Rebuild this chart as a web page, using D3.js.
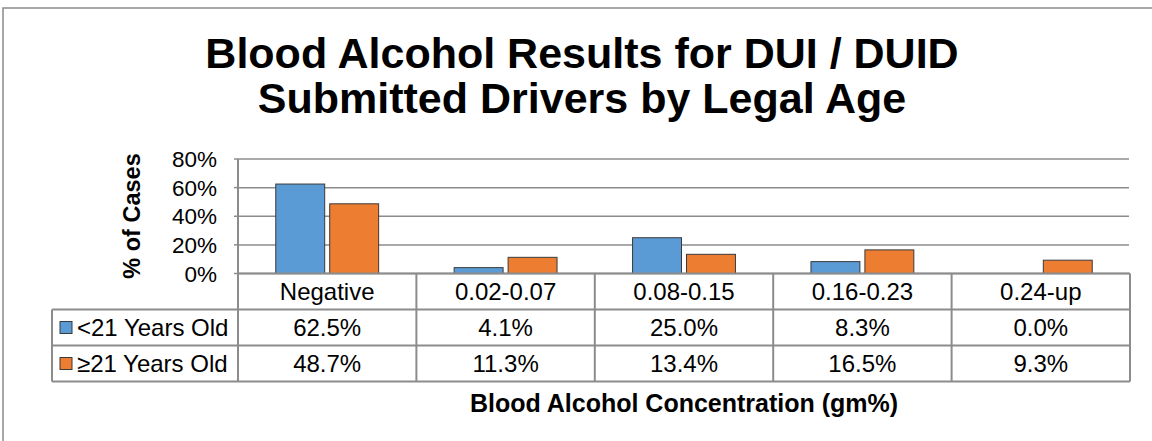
<!DOCTYPE html>
<html>
<head>
<meta charset="utf-8">
<script src="https://cdn.jsdelivr.net/npm/d3@7/dist/d3.min.js"></script>
<style>
  html, body { margin: 0; padding: 0; background: #fff; overflow: hidden; }
  svg { display: block; font-family: "Liberation Sans", Arial, sans-serif; }
</style>
</head>
<body>
<svg id="chart" width="1152" height="441"></svg>
<script>
// Blood alcohol concentration bins
const categories = ["Negative", "0.02-0.07", "0.08-0.15", "0.16-0.23", "0.24-up"];
// Series names and their share of cases (%)
const seriesNames = ["<21 Years Old", "\u226521 Years Old"];
const under21 = [62.5, 4.1, 25.0, 8.3, 0.0];
const over21 = [48.7, 11.3, 13.4, 16.5, 9.3];
const yTicks = [0, 20, 40, 60, 80];
const titleLines = ["Blood Alcohol Results for DUI / DUID", "Submitted Drivers by Legal Age"];

const series = [
  { name: seriesNames[0], values: under21, color: "#5B9BD5" },
  { name: seriesNames[1], values: over21, color: "#ED7D31" }
];

const svg = d3.select("#chart");
const gridColor = "#8c8c8c";

// Layout
const plot = { left: 238, right: 1130, top: 159, bottom: 273.5 };
const rowH = 36;
const legendLeft = 52;
const tableFont = 24;

// Outer chart frame (runs off the right and bottom edges)
svg.append("rect")
  .attr("x", 3).attr("y", 8).attr("width", 1250).attr("height", 500)
  .attr("fill", "none").attr("stroke", "#8a8a8a").attr("stroke-width", 1.5);

function addText(g, x, y, str, size, anchor, weight) {
  return g.append("text")
    .attr("x", x).attr("y", y)
    .attr("text-anchor", anchor)
    .attr("font-size", size)
    .attr("font-weight", weight || "normal")
    .attr("fill", "#000")
    .text(str);
}

// Title
titleLines.forEach((t, i) => {
  addText(svg, 582, 68 + i * 45, t, 43, "middle", "bold");
});

// Scales
const x = d3.scaleBand().domain(categories).range([plot.left, plot.right]).padding(0);
const xInner = d3.scaleBand().domain(seriesNames).range([0, x.bandwidth()])
  .paddingInner(0.093).paddingOuter(0.70);
const y = d3.scaleLinear().domain([0, 80]).range([plot.bottom, plot.top]);

// Gridlines
svg.append("g").selectAll("line").data(yTicks).join("line")
  .attr("x1", plot.left).attr("x2", plot.right - 1)
  .attr("y1", d => y(d)).attr("y2", d => y(d))
  .attr("stroke", gridColor).attr("stroke-width", 1.5);

// Y tick labels
const yAxisG = svg.append("g");
yTicks.forEach(v => {
  addText(yAxisG, 217, y(v) + 8, v + "%", 22.5, "end");
});
// small tick marks
svg.append("g").selectAll("line").data(yTicks).join("line")
  .attr("x1", plot.left - 4).attr("x2", plot.left)
  .attr("y1", d => y(d)).attr("y2", d => y(d))
  .attr("stroke", gridColor).attr("stroke-width", 1.5);

// Y axis title
svg.append("text")
  .attr("transform", "translate(140,216) rotate(-90)")
  .attr("text-anchor", "middle")
  .attr("font-size", 23.5).attr("font-weight", "bold")
  .text("% of Cases");

// Bars
const barG = svg.append("g");
series.forEach(s => {
  barG.append("g").selectAll("rect").data(categories).join("rect")
    .attr("x", (c) => x(c) + xInner(s.name))
    .attr("width", xInner.bandwidth())
    .attr("y", (c, i) => y(s.values[i]))
    .attr("height", (c, i) => y(0) - y(s.values[i]))
    .attr("fill", s.color)
    .attr("stroke", "#3a3a3a").attr("stroke-width", 1)
    .attr("display", (c, i) => s.values[i] > 0 ? null : "none");
});

// Data table
const tableG = svg.append("g");
const tableBottom = plot.bottom + rowH * 3;
[plot.bottom, plot.bottom + rowH, plot.bottom + rowH * 2, tableBottom].forEach((yy, i) => {
  tableG.append("line")
    .attr("x1", i === 0 ? plot.left : legendLeft).attr("x2", plot.right)
    .attr("y1", yy).attr("y2", yy)
    .attr("stroke", gridColor).attr("stroke-width", 2);
});
const colEdges = categories.map(c => x(c)).concat([plot.right]);
colEdges.forEach((xx, i) => {
  tableG.append("line")
    .attr("x1", xx).attr("x2", xx)
    .attr("y1", i === 0 ? plot.top : plot.bottom).attr("y2", tableBottom)
    .attr("stroke", gridColor).attr("stroke-width", 2);
});
tableG.append("line")
  .attr("x1", legendLeft).attr("x2", legendLeft)
  .attr("y1", plot.bottom + rowH).attr("y2", tableBottom)
  .attr("stroke", gridColor).attr("stroke-width", 2);

// category labels
categories.forEach(c => {
  addText(tableG, x(c) + x.bandwidth() / 2, plot.bottom + rowH / 2 + 8.5, c, tableFont, "middle");
});
// value rows with legend keys
series.forEach((s, r) => {
  const rowMid = plot.bottom + rowH * (r + 1) + rowH / 2;
  tableG.append("rect")
    .attr("x", 60).attr("y", rowMid - 6).attr("width", 12).attr("height", 12)
    .attr("fill", s.color).attr("stroke", "#3a3a3a").attr("stroke-width", 1);
  addText(tableG, 77, rowMid + 8.5, s.name, tableFont, "start");
  s.values.forEach((v, i) => {
    addText(tableG, x(categories[i]) + x.bandwidth() / 2, rowMid + 8.5, v.toFixed(1) + "%", tableFont, "middle");
  });
});

// X axis title
addText(svg, (plot.left + plot.right) / 2, 412, "Blood Alcohol Concentration (gm%)", 25, "middle", "bold");
</script>
</body>
</html>
